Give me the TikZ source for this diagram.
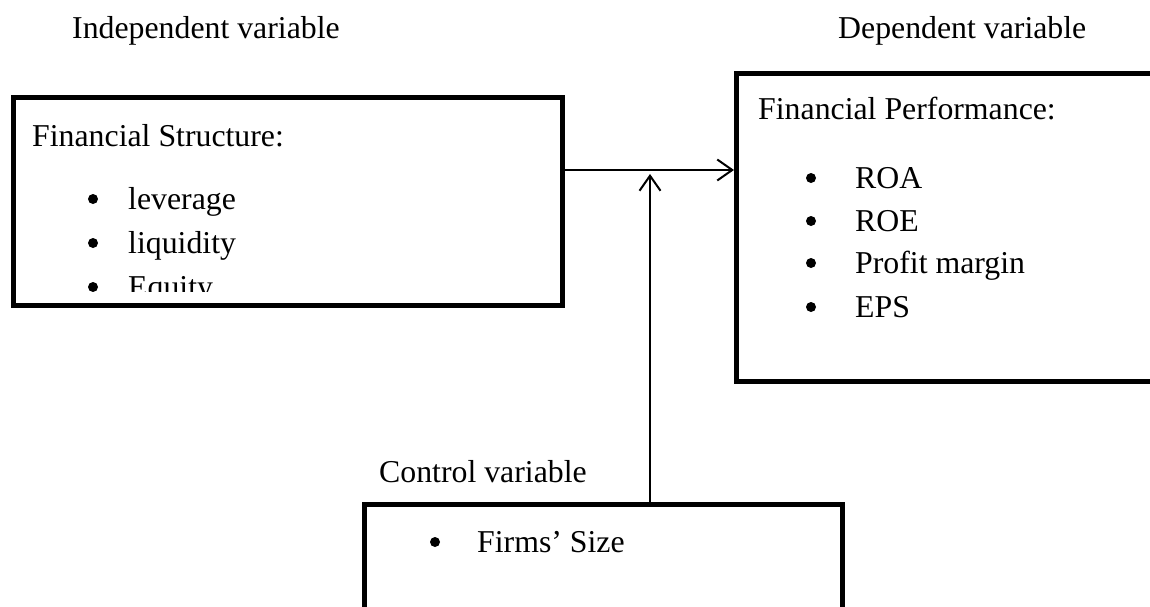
\documentclass[tikz,border=0pt]{standalone}
\usepackage{fontspec}
\setmainfont{Liberation Serif}
\usetikzlibrary{arrows.meta}
\begin{document}
\begin{tikzpicture}[x=1pt,y=-1pt,
  box/.style={draw,line width=5pt,anchor=north west,inner sep=0pt},
  lbl/.style={anchor=base west,inner sep=0pt,font=\fontsize{31.8}{38}\selectfont},
  txt/.style={anchor=base west,inner sep=0pt,font=\fontsize{31.8}{38}\selectfont},
  dot/.style={circle,fill=black,inner sep=0pt,minimum size=10pt},
  conn/.style={line width=2pt,-{Straight Barb[length=15pt,width=21pt,line width=2pt]}}]
\useasboundingbox (0,0) rectangle (1150,606);
\clip (0,0) rectangle (1150,606);
% labels
\node[lbl] (iv) at (72,38) {Independent variable};
\node[lbl] (dv) at (838,38) {Dependent variable};
\node[lbl] (cvl) at (379,482) {Control variable};
% boxes
\node[box,minimum width=549pt,minimum height=208pt] (fs) at (11,95) {};
\node[box,minimum width=440pt,minimum height=308pt] (fp) at (734,71) {};
\node[box,minimum width=478pt,minimum height=140pt] (cv) at (362,502) {};
% left box text
\node[txt] (fst) at (32,146) {Financial Structure:};
\node[dot] (b1) at (93,199) {};
\node[txt] (t1) at (128,209) {leverage};
\node[dot] (b2) at (93,243) {};
\node[txt] (t2) at (128,253) {liquidity};
\begin{scope}
\clip (14,98) rectangle (557,291);
\node[dot] (b3) at (93,287) {};
\node[txt] (t3) at (128,297) {Equity};
\end{scope}
% right box text
\node[txt] (fpt) at (758,119) {Financial Performance:};
\node[dot] (r1) at (811,178) {};
\node[txt] (u1) at (855,188) {ROA};
\node[dot] (r2) at (811,221) {};
\node[txt] (u2) at (855,231) {ROE};
\node[dot] (r3) at (811,263) {};
\node[txt] (u3) at (855,273) {Profit margin};
\node[dot] (r4) at (811,307) {};
\node[txt] (u4) at (855,317) {EPS};
% bottom box text
\node[dot] (c1) at (435,542) {};
\node[txt] (v1) at (477,552) {Firms' Size};
% connectors
\coordinate (h) at (0,170);
\coordinate (vt) at (650,174);
\draw[conn] (fs.east |- h) -- (fp.west |- h);
\draw[conn] (cv.north -| vt) -- (vt);
\end{tikzpicture}
\end{document}
